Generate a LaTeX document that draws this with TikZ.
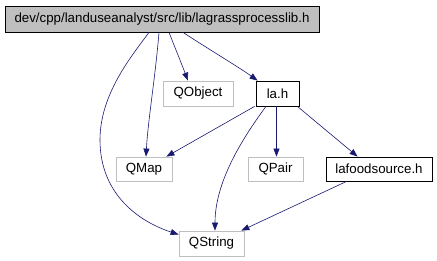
\documentclass[tikz,border=0pt]{standalone}
\usepackage{fontspec}
\setmainfont{Liberation Sans}
\usetikzlibrary{arrows.meta}
\definecolor{edgeblue}{RGB}{25,25,112}
\definecolor{lightframe}{RGB}{191,191,191}
\begin{document}
\begin{tikzpicture}[x=1pt,y=-1pt,
  every node/.style={font=\fontsize{13.3}{15}\selectfont, inner sep=0pt, anchor=center},
  filebox/.style={draw=black, line width=0.8pt, rectangle},
  extbox/.style={draw=lightframe, line width=0.8pt, rectangle},
  dep/.style={draw=edgeblue, line width=0.6pt, -{Triangle[length=8pt,width=6pt]}, fill=none},
]
\useasboundingbox (0,0) rectangle (437,261);

% headers
\node[filebox, fill=lightframe, minimum width=314pt, minimum height=26pt] (main) at (162,19) {dev/cpp/landuseanalyst/src/lib/lagrassprocesslib.h};
\node[extbox, minimum width=70pt, minimum height=25pt] (qobject) at (198,93.5) {QObject};
\node[filebox, minimum width=43pt, minimum height=25pt] (lah) at (277.5,93.5) {la.h};
\node[extbox, minimum width=56pt, minimum height=24pt] (qmap) at (144,169) {QMap};
\node[extbox, minimum width=55pt, minimum height=24pt] (qpair) at (275.5,169) {QPair};
\node[filebox, minimum width=106pt, minimum height=24pt] (food) at (379,169) {lafoodsource.h};
\node[extbox, minimum width=65pt, minimum height=25pt] (qstring) at (211.5,243.5) {QString};

% include edges
\draw[dep] ([xshift=-13pt]main.south) .. controls (130,58) and (100,95) .. (100,140)
  .. controls (100,195) and (140,222) .. ([yshift=9pt]qstring.west);
\draw[dep] ([xshift=-3pt]main.south) .. controls (155,80) and (148,120) .. ([xshift=2pt]qmap.north);
\draw[dep] ([xshift=7pt]main.south) .. controls (174,45) and (182,65) .. ([xshift=-10pt]qobject.north);
\draw[dep] ([xshift=21pt]main.south) .. controls (210,50) and (240,68) .. ([xshift=2pt]lah.north west);
\draw[dep] ([xshift=-1pt]lah.south west) -- ([xshift=-6pt]qmap.north east);
\draw[dep] ([xshift=-11.5pt]lah.south) .. controls (245,135) and (215,180) .. ([xshift=3.5pt]qstring.north);
\draw[dep] ([xshift=-1pt]lah.south) -- ([xshift=1pt]qpair.north);
\draw[dep] ([xshift=-2pt]lah.south east) -- ([xshift=32pt]food.north west);
\draw[dep] ([xshift=21pt]food.south west) -- ([xshift=-3pt]qstring.north east);
\end{tikzpicture}
\end{document}
